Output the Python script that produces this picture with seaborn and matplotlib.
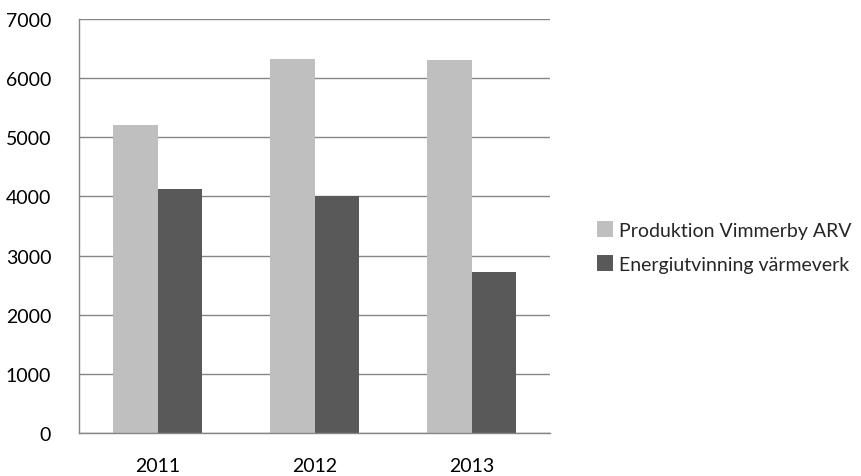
import matplotlib
matplotlib.use("Agg")
import matplotlib.pyplot as plt
import seaborn as sns
import pandas as pd
from matplotlib.ticker import FixedLocator

years = ["2011", "2012", "2013"]
series_names = ["Produktion Vimmerby ARV", "Energiutvinning värmeverk"]
produktion = [5210, 6330, 6300]
energi = [4130, 4010, 2720]
yticks = [0, 1000, 2000, 3000, 4000, 5000, 6000, 7000]
colors = ["#BFBFBF", "#595959"]

df = pd.DataFrame({
    "year": years * 2,
    "value": produktion + energi,
    "series": [series_names[0]] * 3 + [series_names[1]] * 3,
})

sns.set_style("white")
plt.rcParams["font.family"] = ["Lato", "DejaVu Sans"]

fig = plt.figure(figsize=(8.62, 4.77), dpi=100)
ax = fig.add_axes([79 / 862, 43 / 477, 471 / 862, 414 / 477])

sns.barplot(data=df, x="year", y="value", hue="series", order=years,
            hue_order=series_names, palette=colors, width=0.567, gap=0,
            saturation=1, ax=ax, legend=True, linewidth=0, edgecolor="none")

ax.set_xlim(-0.5, 2.5)
ax.set_ylim(0, 7000)
ax.set_yticks(yticks)
ax.set_yticklabels([str(v) for v in yticks], fontsize=14)
ax.set_xlabel("")
ax.set_ylabel("")
ax.yaxis.grid(True, color="#868686", linewidth=1)
ax.set_axisbelow(True)
for s in ["top", "right"]:
    ax.spines[s].set_visible(False)
for s in ["left", "bottom"]:
    ax.spines[s].set_color("#868686")
    ax.spines[s].set_linewidth(1)
ax.tick_params(axis="y", length=8, color="#868686", width=1, pad=12)
ax.tick_params(axis="x", which="major", length=0, labelsize=14, pad=17)
ax.xaxis.set_minor_locator(FixedLocator([-0.5, 0.5, 1.5, 2.5]))
ax.tick_params(axis="x", which="minor", length=6, color="#868686", width=1)
for lab in ax.get_xticklabels() + ax.get_yticklabels():
    lab.set_color("#000000")

handles, labels = ax.get_legend_handles_labels()
ax.legend_.remove()
fig.legend(handles, labels, loc="center left", bbox_to_anchor=(0.672, 0.48),
           frameon=False, fontsize=14, handlelength=0.85, handleheight=0.85,
           handletextpad=0.3, labelspacing=0.85)

fig.savefig("out.png", dpi=100)
